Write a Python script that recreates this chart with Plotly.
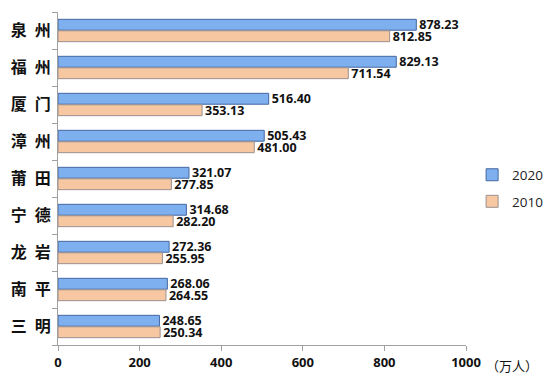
import plotly.graph_objects as go

cities = ["泉 州", "福 州", "厦 门", "漳 州", "莆 田", "宁 德", "龙 岩", "南 平", "三 明"]
pop_2020 = [878.23, 829.13, 516.40, 505.43, 321.07, 314.68, 272.36, 268.06, 248.65]
pop_2010 = [812.85, 711.54, 353.13, 481.00, 277.85, 282.20, 255.95, 264.55, 250.34]
x_ticks = [0, 200, 400, 600, 800, 1000]

label_font = dict(family="Open Sans", size=12.5, color="#111111", weight="bold")

fig = go.Figure()
fig.add_trace(go.Bar(
    y=cities, x=pop_2020, name="2020", orientation="h", legendgroup="a",
    marker=dict(color="#7eafee", line=dict(color="#4467a0", width=1)),
    text=[f"{v:.2f}" for v in pop_2020], textposition="outside", constraintext="none",
    textfont=label_font, cliponaxis=False,
))
fig.add_trace(go.Bar(
    y=cities, x=pop_2010, name="2010", orientation="h", legendgroup="b",
    marker=dict(color="#f7c7a1", line=dict(color="#9c9090", width=1)),
    text=[f"{v:.2f}" for v in pop_2010], textposition="outside", constraintext="none",
    textfont=label_font, cliponaxis=False,
))

fig.update_layout(
    width=544, height=379,
    margin=dict(l=50, r=86, t=4, b=42, autoexpand=False),
    paper_bgcolor="white", plot_bgcolor="white",
    barmode="group", bargap=0.38, bargroupgap=0.05,
    showlegend=True,
    legend=dict(x=1.015, y=0.47, xanchor="left", yanchor="middle",
                font=dict(family="Open Sans", size=13.5, color="#222222"),
                itemwidth=30, tracegroupgap=6, bgcolor="rgba(0,0,0,0)"),
    xaxis=dict(range=[0, 1000], tickvals=x_ticks, showgrid=False, automargin=False,
               showline=True, linecolor="#a0a0a0", linewidth=1,
               ticks="outside", ticklen=5, tickcolor="#a0a0a0",
               tickfont=dict(family="Open Sans", size=13, color="#111111", weight="bold"),
               zeroline=False),
    yaxis=dict(autorange="reversed", showgrid=False, showline=True, automargin=False,
               linecolor="#a0a0a0", linewidth=1, ticks="outside", ticklen=5,
               tickcolor="#a0a0a0", tickson="boundaries",
               tickvals=cities, ticktext=[c.replace(" ", "\u2002") for c in cities],
               tickfont=dict(family="Noto Sans CJK SC", size=16, color="#111111", weight="bold"),
               ticklabelstandoff=3),
)
fig.add_annotation(text="（万人）", xref="paper", yref="paper", x=1.0, y=-0.062,
                   xanchor="left", yanchor="middle", showarrow=False, xshift=18,
                   font=dict(family="Noto Sans CJK SC", size=13, color="#111111"))

fig.write_html("out.html")
